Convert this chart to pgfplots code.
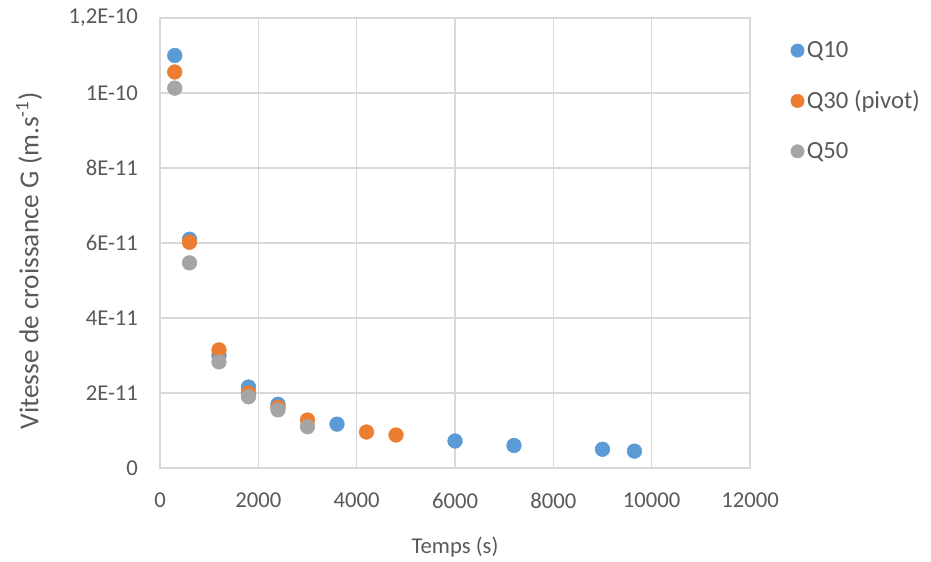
\documentclass[border=0pt]{standalone}
\usepackage{fontspec}
\setmainfont{Carlito}
\usepackage{pgfplots}
\pgfplotsset{compat=1.18}
\definecolor{cblue}{HTML}{5B9BD5}
\definecolor{corange}{HTML}{ED7D31}
\definecolor{cgray}{HTML}{A5A5A5}
\definecolor{ctext}{HTML}{595959}
\definecolor{cgrid}{HTML}{D9D9D9}
\begin{document}
\begin{tikzpicture}
\useasboundingbox (-120pt,-69.75pt) rectangle (578.25pt,351pt);
\begin{axis}[
  at={(0,0)}, anchor=south west,
  scale only axis, width=442.5pt, height=337.5pt,
  xmin=0, xmax=12000, ymin=0, ymax=1.2e-10,
  xtick={0,2000,4000,6000,8000,10000,12000},
  xticklabels={0,2000,4000,6000,8000,10000,12000},
  ytick={0,2e-11,4e-11,6e-11,8e-11,1e-10,1.2e-10},
  yticklabels={0,2E-11,4E-11,6E-11,8E-11,1E-10,{1,2E-10}},
  scaled x ticks=false, scaled y ticks=false,
  /pgf/number format/assume math mode=true,
  major tick length=0pt,
  grid=major,
  grid style={cgrid, line width=1pt},
  axis line style={cgrid, line width=1pt},
  tick label style={font=\fontsize{17}{19}\selectfont, text=ctext},
  xticklabel style={yshift=-15pt},
  yticklabel style={xshift=-13pt},
  xlabel={Temps (s)},
  ylabel={Vitesse de croissance G (m.s\textsuperscript{-1})},
  xlabel style={font=\fontsize{17}{19}\selectfont, text=ctext,
    at={(axis description cs:0.5,-0.176)}, anchor=center},
  ylabel style={font=\fontsize{20.5}{22}\selectfont, text=ctext,
    at={(axis description cs:-0.222,0.46)}, anchor=center},
  legend style={at={(1.062,0.96)}, anchor=north west, draw=none, fill=none,
    font=\fontsize{18.5}{20}\selectfont, text=ctext, row sep=19.5pt,
    legend cell align=left},
  legend image code/.code={\draw[#1, mark size=5pt] plot coordinates {(0.28cm,0cm)};},
]
\addplot[only marks, mark=*, mark size=5.5pt, color=cblue] coordinates {
 (300,11.0e-11) (600,6.1e-11) (1200,3.0e-11) (1800,2.16e-11) (2400,1.7e-11)
 (3600,1.17e-11) (6000,0.72e-11) (7200,0.6e-11) (9000,0.5e-11) (9650,0.45e-11)
};
\addlegendentry{Q10}
\addplot[only marks, mark=*, mark size=5.5pt, color=corange] coordinates {
 (300,10.56e-11) (600,6.02e-11) (1200,3.15e-11) (1800,2.0e-11) (2400,1.62e-11)
 (3000,1.28e-11) (4200,0.96e-11) (4800,0.88e-11)
};
\addlegendentry{Q30 (pivot)}
\addplot[only marks, mark=*, mark size=5.5pt, color=cgray] coordinates {
 (300,10.13e-11) (600,5.47e-11) (1200,2.83e-11) (1800,1.9e-11) (2400,1.55e-11)
 (3000,1.1e-11)
};
\addlegendentry{Q50}
\end{axis}
\end{tikzpicture}
\end{document}
